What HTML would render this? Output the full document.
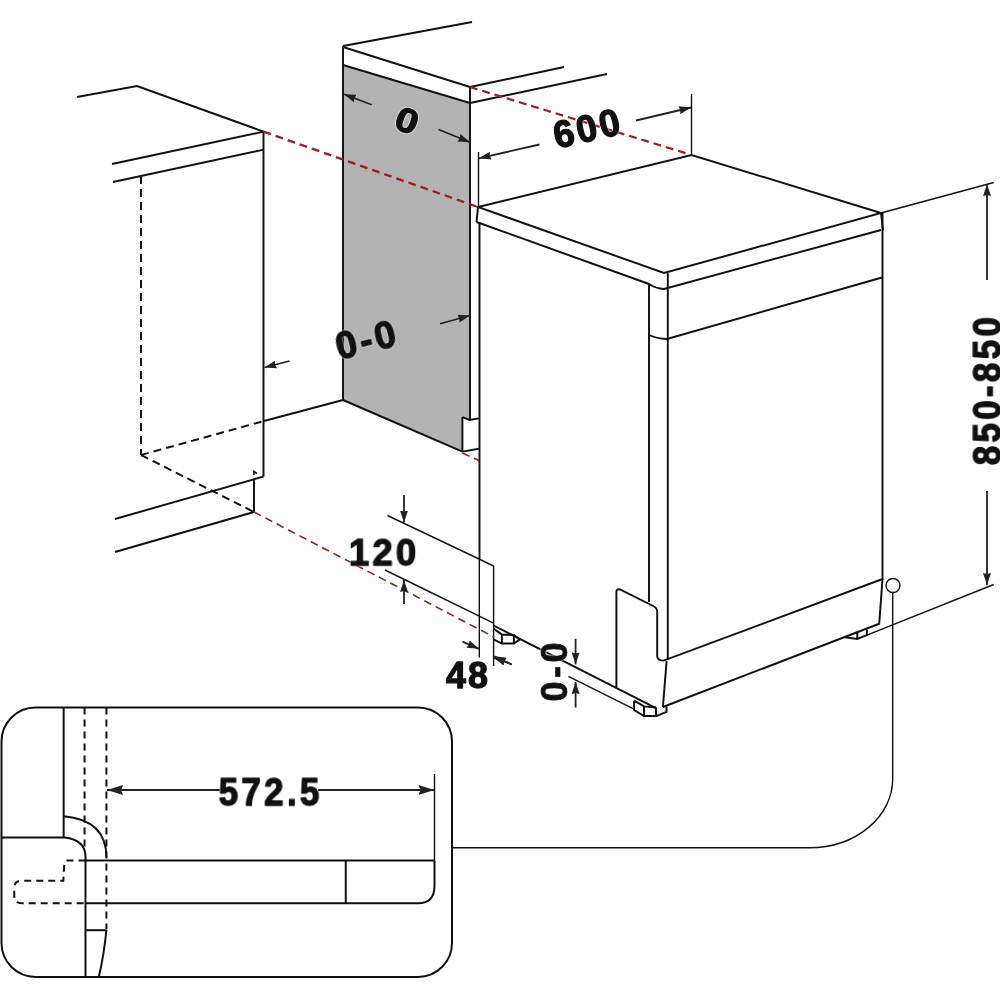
<!DOCTYPE html>
<html><head><meta charset="utf-8"><style>
html,body{margin:0;padding:0;background:#fff;width:1000px;height:1000px;overflow:hidden}
svg{display:block;will-change:transform}
text{font-family:"Liberation Sans",sans-serif;font-weight:bold;fill:#111}
</style></head><body>
<svg width="1000" height="1000" viewBox="0 0 1000 1000">
<defs>
<marker id="ah" viewBox="0 0 12 8" refX="12" refY="4" markerWidth="12" markerHeight="8" markerUnits="userSpaceOnUse" orient="auto"><path d="M0,0 L12,4 L0,8 L1,4 z" fill="#222"/></marker>
<marker id="ahb" viewBox="0 0 16 10" refX="16" refY="5" markerWidth="16" markerHeight="10" markerUnits="userSpaceOnUse" orient="auto"><path d="M0,0 L16,5 L0,10 L2,5 z" fill="#222"/></marker>
</defs>
<rect width="1000" height="1000" fill="#fff"/>

<!-- grey panel -->
<polygon points="343,65 470,103 470,420 462.4,417.2 462.4,451.6 343,400" fill="#b3b3b3"/>

<g fill="none" stroke="#111" stroke-width="1.95" stroke-linejoin="miter" stroke-linecap="butt">
<!-- left cabinet -->
<polyline points="77,97 137,86 263.5,131.6"/>
<line x1="112" y1="164" x2="263.5" y2="131.6"/>
<line x1="113" y1="182" x2="263.5" y2="149.6"/>
<line x1="263.5" y1="131.6" x2="263.5" y2="476.5"/>
<line x1="264" y1="421" x2="343" y2="400"/>
<line x1="115" y1="519" x2="263.5" y2="476.5"/>
<line x1="115" y1="552" x2="254" y2="512"/>
<line x1="254" y1="478.7" x2="254" y2="512"/>
<polyline points="254,475 254,471.5 257,473.5" stroke-width="1.6"/>

<!-- tall cabinet -->
<line x1="343" y1="46" x2="472" y2="22"/>
<line x1="343" y1="46" x2="343" y2="400"/>
<line x1="343" y1="47" x2="470" y2="87"/>
<line x1="470" y1="87" x2="470" y2="420"/>
<line x1="470" y1="87" x2="564" y2="67"/>
<line x1="470" y1="103" x2="607" y2="74"/>
<line x1="343" y1="65" x2="470" y2="103"/>
<polyline points="462.4,417.2 469.6,420 478.8,418.4"/>
<line x1="462.4" y1="417.2" x2="462.4" y2="451.6"/>
<line x1="462.4" y1="451.6" x2="478.8" y2="448.8"/>
<line x1="343" y1="400" x2="462.4" y2="451.6"/>

<!-- dishwasher top slab -->
<polygon points="478,207 691.5,155 881,213 664,273"/>
<line x1="478" y1="207" x2="476.5" y2="222"/>
<path d="M476.5,222 L649,284 Q656,288.5 664,289 L881,230"/>
<line x1="881" y1="213" x2="883" y2="230"/>
<line x1="882.5" y1="213" x2="882.5" y2="580"/>
<line x1="479.5" y1="222" x2="479.5" y2="559"/>
<line x1="649" y1="284" x2="649" y2="602"/>
<line x1="667.8" y1="273" x2="667.8" y2="660"/>
<path d="M649,335 Q656,338.5 667,339 L882,277.5"/>
<!-- door bottom / flap -->
<path d="M616.4,687 L616.4,592 Q616.4,588.5 620,589.5 L653.2,606 Q657.2,608 657.2,611.6 L657.2,656 Q657.2,660.6 663.6,660.6 L882.5,579"/>
<path d="M882.5,579 L879.2,623.7 L662.9,707"/>
<line x1="666.6" y1="661.2" x2="662.9" y2="707"/>
<line x1="493.6" y1="625.5" x2="656" y2="708.2"/>
<!-- feet -->
<path d="M634.1,700.7 L634.1,710 L644,716 L656.6,716 L666.5,711.8 L666.5,706.4 M644,706.4 L644,716 M656,707.6 L656,716 M634.1,700.7 L644,706.4 L656,707.6" stroke-width="2"/>
<path d="M493.5,628.6 L501.9,634.6 L513.9,635 L519.6,639.7 L513.9,643.6 L501.9,643.6 L493.5,639.4 M501.9,634.6 L501.9,643.6 M513.9,635 L513.9,643.6" stroke-width="2"/>
<path d="M845,637.2 L857.3,639 L866.9,635.1 L866.9,629.4 M857.3,632.7 L857.3,639" stroke-width="2"/>
</g>

<!-- thin lines -->
<g fill="none" stroke="#111" stroke-width="1.4">
<line x1="478.5" y1="152" x2="478.5" y2="207"/>
<line x1="691.5" y1="94" x2="691.5" y2="155"/>
<line x1="881" y1="213" x2="993.75" y2="182.5"/>
<line x1="866.9" y1="635.1" x2="993.75" y2="584.5"/>
<line x1="479.3" y1="559" x2="479.3" y2="657.6"/>
<polyline points="387.5,515.5 479,559 493.6,566 493.6,666"/>
<line x1="385" y1="570" x2="493.6" y2="623.2"/>
<line x1="568.4" y1="676.4" x2="634" y2="709.2"/>
<circle cx="893" cy="585.5" r="7"/>
<path d="M892.7,592.5 L892.7,779 A83.3,68.8 0 0 1 809.4,847.8 L452,847.8"/>
</g>

<!-- dashed black -->
<g fill="none" stroke="#111" stroke-width="2" stroke-dasharray="8,5">
<line x1="141" y1="176" x2="141" y2="455"/>
<line x1="141" y1="455" x2="264" y2="421"/>
<line x1="141" y1="455" x2="254" y2="512"/>
</g>

<!-- red dashed -->
<g fill="none" stroke="#a01e1e" stroke-width="2.3" stroke-dasharray="7.8,5">
<line x1="263.5" y1="131.6" x2="478" y2="207"/>
<line x1="470" y1="87" x2="687" y2="153.5"/>
<line x1="254" y1="512" x2="494" y2="637" stroke-width="1.6" stroke="#8e2424"/>
<line x1="462.4" y1="453" x2="479" y2="460.4" stroke-width="1.7" stroke="#9a2222"/>
</g>

<!-- arrows -->
<g fill="none" stroke="#222" stroke-width="1.8" marker-end="url(#ah)">
<line x1="289.5" y1="361" x2="264.5" y2="367.5"/>
<line x1="371.75" y1="104.75" x2="344" y2="94.25"/>
<line x1="438.5" y1="129.5" x2="470" y2="142.25"/>
<line x1="440" y1="323.75" x2="470" y2="315.5"/>
<line x1="539.5" y1="144.5" x2="479" y2="158.3"/>
<line x1="636" y1="120.5" x2="691" y2="107.5"/>
<line x1="987" y1="280" x2="987" y2="184"/>
<line x1="987" y1="491" x2="987" y2="585"/>
<line x1="404" y1="495" x2="404" y2="522.5"/>
<line x1="404" y1="604" x2="404" y2="580"/>
<line x1="462.4" y1="641.6" x2="479" y2="648.8"/>
<line x1="511.2" y1="664" x2="493.6" y2="657.6"/>
<line x1="575.6" y1="638.8" x2="575.6" y2="664.4"/>
<line x1="575.6" y1="707.6" x2="575.6" y2="682"/>
<line x1="511.8" y1="664.6" x2="494.4" y2="656.2"/>
</g>

<!-- inset -->
<g fill="none" stroke="#222" stroke-width="1.8" marker-end="url(#ahb)">
<line x1="220" y1="790" x2="107" y2="790"/>
<line x1="318" y1="790" x2="434.5" y2="790"/>
</g>
<g fill="none" stroke="#111" stroke-width="2">
<rect x="1.5" y="707.5" width="450.5" height="269.5" rx="34" ry="34"/>
<line x1="63.65" y1="707.5" x2="63.65" y2="837.6"/>
<path d="M1.5,837.6 L64.6,837.6 Q85.5,840 85.5,857 L85.5,977"/>
<path d="M63.65,816.2 Q106.4,820 106.4,857"/>
<line x1="85.5" y1="860.4" x2="434.5" y2="860.4"/>
<path d="M85.5,903.2 L418,903.2 Q434.5,903.2 434.5,886 L434.5,860.4"/>
<line x1="345.75" y1="860.4" x2="345.75" y2="903.2"/>
<line x1="85.5" y1="930.2" x2="106.4" y2="930.2"/>
<path d="M106.4,930 Q104,955 98.8,977"/>
</g>
<g fill="none" stroke="#111" stroke-width="1.4">
<line x1="434.5" y1="774" x2="434.5" y2="860.4"/>
</g>
<g fill="none" stroke="#111" stroke-width="2" stroke-dasharray="7,5">
<line x1="84.55" y1="707.5" x2="84.55" y2="851.3"/>
<line x1="106.4" y1="707.5" x2="106.4" y2="929.2"/>
<path d="M85.5,860.4 L68,860.4 Q64.6,860.4 64.3,864 L63.3,880.75 L20.9,880.75 Q14.25,880.75 14.25,888.4 L14.25,896.9 Q14.25,903.2 22,903.2 L85.5,903.2"/>
</g>

<!-- halo -->
<g stroke-linejoin="round" opacity="0.45">
<text stroke="#fff" stroke-width="3" style="fill:#fff" font-size="36" text-anchor="middle" x="0.0" y="12.89" letter-spacing="0" transform="translate(407.3,120) rotate(20) scale(1.12,0.95)">0</text>
<text stroke="#fff" stroke-width="3" style="fill:#fff" font-size="38" text-anchor="middle" x="1.5" y="13.60" letter-spacing="3.0" transform="translate(365.5,339.25) rotate(-14) scale(1.0,1)">0-0</text>
<text stroke="#fff" stroke-width="3" style="fill:#fff" font-size="38" text-anchor="middle" x="1.5" y="13.60" letter-spacing="3.0" transform="translate(586.4,128) rotate(-13) scale(0.97,1)">600</text>
<text stroke="#fff" stroke-width="3" style="fill:#fff" font-size="39" text-anchor="middle" x="1.8" y="13.96" letter-spacing="3.6" transform="translate(986.3,391.25) rotate(-90) scale(0.9,1)">850-850</text>
<text stroke="#fff" stroke-width="3" style="fill:#fff" font-size="37" text-anchor="middle" x="1.6" y="13.25" letter-spacing="3.2" transform="translate(382.5,552.2) rotate(0) scale(0.99,1)">120</text>
<text stroke="#fff" stroke-width="3" style="fill:#fff" font-size="37" text-anchor="middle" x="1.0" y="13.25" letter-spacing="2.0" transform="translate(467.0,675.0) rotate(0) scale(0.97,1)">48</text>
<text stroke="#fff" stroke-width="3" style="fill:#fff" font-size="39" text-anchor="middle" x="1.8" y="13.96" letter-spacing="3.6" transform="translate(269,791.3) rotate(0) scale(0.9,1)">572.5</text>
<text stroke="#fff" stroke-width="3" style="fill:#fff" font-size="36" text-anchor="middle" x="1.75" y="12.89" letter-spacing="3.5" transform="translate(553.9,672) rotate(-90) scale(1.0,1)">0-0</text>
</g>
<!-- texts -->
<g stroke-linejoin="round">
<text stroke="#111" stroke-width="1.2" font-size="36" text-anchor="middle" x="0.0" y="12.89" letter-spacing="0" transform="translate(407.3,120) rotate(20) scale(1.12,0.95)">0</text>
<text stroke="#111" stroke-width="1.3" font-size="38" text-anchor="middle" x="1.5" y="13.60" letter-spacing="3.0" transform="translate(365.5,339.25) rotate(-14) scale(1.0,1)">0-0</text>
<text stroke="#111" stroke-width="1.3" font-size="38" text-anchor="middle" x="1.5" y="13.60" letter-spacing="3.0" transform="translate(586.4,128) rotate(-13) scale(0.97,1)">600</text>
<text stroke="#111" stroke-width="1.3" font-size="39" text-anchor="middle" x="1.8" y="13.96" letter-spacing="3.6" transform="translate(986.3,391.25) rotate(-90) scale(0.9,1)">850-850</text>
<text stroke="#111" stroke-width="1.3" font-size="37" text-anchor="middle" x="1.6" y="13.25" letter-spacing="3.2" transform="translate(382.5,552.2) rotate(0) scale(0.99,1)">120</text>
<text stroke="#111" stroke-width="1.3" font-size="37" text-anchor="middle" x="1.0" y="13.25" letter-spacing="2.0" transform="translate(467.0,675.0) rotate(0) scale(0.97,1)">48</text>
<text stroke="#111" stroke-width="1.3" font-size="39" text-anchor="middle" x="1.8" y="13.96" letter-spacing="3.6" transform="translate(269,791.3) rotate(0) scale(0.9,1)">572.5</text>
<text stroke="#111" stroke-width="0.7" font-size="36" text-anchor="middle" x="1.75" y="12.89" letter-spacing="3.5" transform="translate(553.9,672) rotate(-90) scale(1.0,1)">0-0</text>
</g>
</svg>
</body></html>
